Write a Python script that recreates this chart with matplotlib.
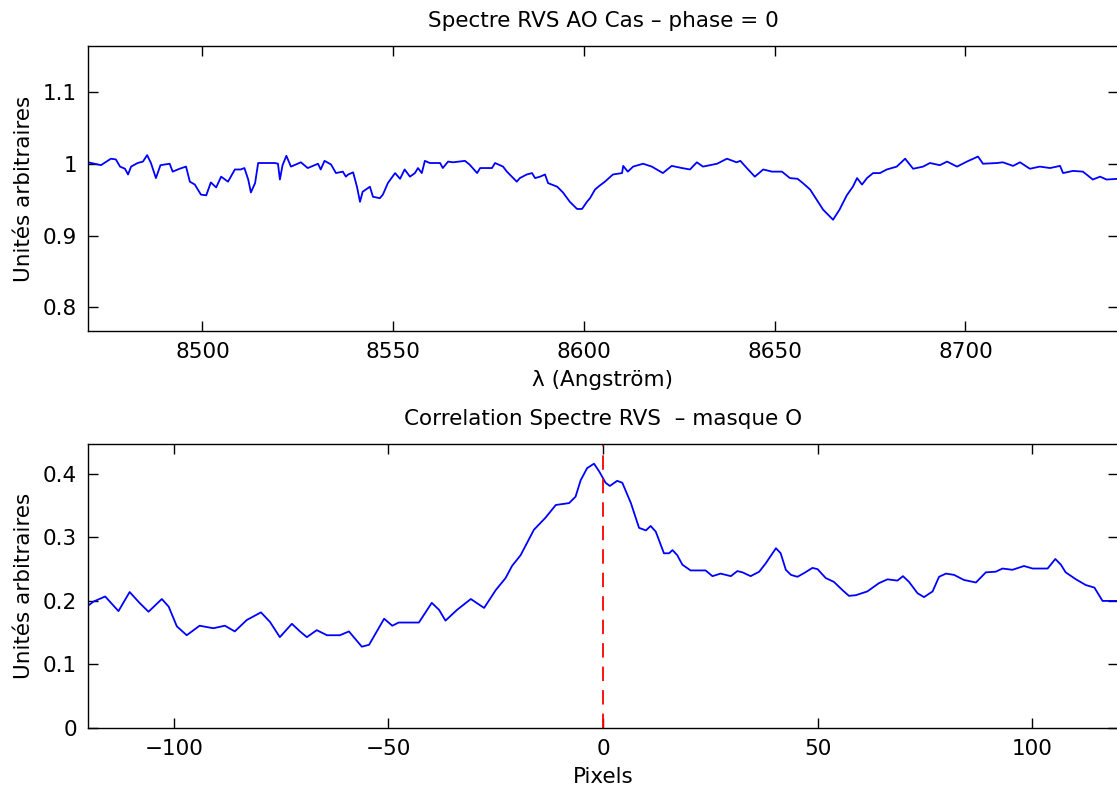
import matplotlib
matplotlib.use("Agg")
import matplotlib.pyplot as plt
from matplotlib.ticker import FuncFormatter

# ---- Data: top panel (spectrum) ----
wavelength = [8470.0, 8473.4, 8476.0, 8477.3, 8478.4, 8479.7, 8480.5, 8481.3, 8483.0, 8484.4,
              8485.5, 8486.5, 8487.8, 8489.0, 8491.4, 8492.2, 8494.0, 8495.7, 8496.7, 8498.0,
              8499.6, 8501.0, 8502.2, 8503.6, 8504.9, 8506.7, 8508.5, 8510.0, 8511.0, 8512.0,
              8512.7, 8513.8, 8514.6, 8519.0, 8519.8, 8520.3, 8521.0, 8522.0, 8523.2, 8525.8,
              8527.6, 8530.3, 8531.0, 8532.0, 8533.7, 8535.0, 8536.8, 8537.6, 8538.2, 8539.5,
              8540.5, 8541.3, 8542.0, 8543.9, 8544.7, 8546.5, 8547.3, 8548.6, 8550.5, 8551.8,
              8553.0, 8554.4, 8555.7, 8556.5, 8557.5, 8558.3, 8559.6, 8562.3, 8563.0, 8564.4,
              8565.7, 8568.8, 8570.0, 8572.0, 8572.8, 8575.9, 8576.7, 8578.8, 8579.8, 8582.4,
              8583.2, 8585.0, 8586.4, 8587.2, 8588.5, 8589.8, 8590.6, 8593.0, 8594.5, 8596.3,
              8598.2, 8599.5, 8600.8, 8601.6, 8602.9, 8604.0, 8605.5, 8607.6, 8610.0, 8610.3,
              8611.5, 8612.9, 8615.5, 8617.8, 8620.7, 8623.0, 8625.7, 8627.8, 8629.6, 8631.2,
              8634.9, 8637.5, 8640.0, 8641.0, 8642.7, 8644.8, 8647.0, 8649.3, 8651.9, 8654.0,
              8656.0, 8657.4, 8659.3, 8661.0, 8662.7, 8665.3, 8667.0, 8668.9, 8670.5, 8671.6,
              8672.9, 8674.2, 8675.8, 8677.6, 8679.4, 8682.0, 8684.2, 8686.3, 8688.9, 8690.7,
              8693.3, 8695.2, 8697.8, 8700.4, 8703.3, 8704.6, 8708.3, 8709.8, 8712.5, 8714.3,
              8716.9, 8719.5, 8722.2, 8724.8, 8725.6, 8728.2, 8730.8, 8733.4, 8735.3, 8737.0,
              8740.0]
flux = [1.002, 0.998, 1.007, 1.006, 0.996, 0.993, 0.985, 0.996, 1.001, 1.003,
        1.012, 1.001, 0.980, 0.998, 1.000, 0.989, 0.993, 0.996, 0.975, 0.971,
        0.957, 0.956, 0.974, 0.967, 0.982, 0.975, 0.992, 0.992, 0.994, 0.978,
        0.960, 0.973, 1.001, 1.001, 1.000, 0.978, 0.998, 1.011, 0.996, 1.002,
        0.994, 1.000, 0.992, 1.004, 0.999, 0.987, 0.989, 0.982, 0.985, 0.988,
        0.968, 0.947, 0.961, 0.968, 0.954, 0.952, 0.957, 0.973, 0.987, 0.979,
        0.992, 0.982, 0.987, 0.994, 0.987, 1.004, 1.001, 1.001, 0.994, 1.003,
        1.002, 1.004, 0.999, 0.987, 0.994, 0.994, 1.001, 0.996, 0.989, 0.975,
        0.980, 0.985, 0.987, 0.980, 0.982, 0.985, 0.973, 0.968, 0.960, 0.947,
        0.937, 0.937, 0.947, 0.952, 0.964, 0.969, 0.975, 0.985, 0.987, 0.997,
        0.989, 0.996, 1.000, 0.996, 0.987, 0.997, 0.994, 0.992, 1.002, 0.996,
        1.000, 1.007, 1.002, 1.004, 0.994, 0.982, 0.992, 0.989, 0.989, 0.980,
        0.979, 0.973, 0.964, 0.950, 0.936, 0.922, 0.936, 0.956, 0.968, 0.980,
        0.971, 0.980, 0.987, 0.987, 0.992, 0.996, 1.007, 0.993, 0.996, 1.001,
        0.998, 1.003, 0.996, 1.003, 1.010, 1.000, 1.001, 1.002, 0.997, 1.002,
        0.993, 0.996, 0.994, 0.997, 0.987, 0.990, 0.989, 0.978, 0.982, 0.978,
        0.979]

# ---- Data: bottom panel (correlation) ----
pixels = [-120.3, -118.7, -116.0, -112.9, -110.3, -108.0, -105.9, -102.8, -101.2, -99.3,
          -97.0, -94.0, -90.8, -88.1, -85.8, -83.0, -79.7, -77.6, -75.3, -72.5,
          -70.6, -69.0, -66.7, -64.3, -61.3, -59.2, -56.2, -54.5, -51.0, -49.1,
          -47.6, -42.9, -39.9, -38.2, -36.7, -34.0, -30.8, -27.7, -25.0, -22.7,
          -21.2, -19.2, -16.1, -13.4, -11.0, -7.9, -6.4, -5.2, -3.7, -2.1,
          -0.9, 0.6, 1.6, 3.3, 4.5, 6.5, 8.4, 10.0, 11.1, 12.3,
          14.2, 15.4, 16.2, 17.3, 18.5, 20.4, 23.9, 25.5, 27.4, 29.8,
          31.3, 32.5, 34.4, 36.4, 37.9, 40.3, 41.4, 42.6, 43.8, 45.3,
          46.9, 48.8, 50.0, 51.9, 53.8, 55.8, 57.3, 58.9, 61.6, 64.3,
          66.3, 68.6, 69.9, 71.3, 73.3, 74.8, 76.8, 78.3, 79.9, 81.8,
          84.1, 86.9, 89.2, 91.5, 93.1, 95.4, 98.1, 100.1, 103.6, 105.4,
          106.7, 107.8, 110.2, 112.5, 114.5, 116.4, 118.7, 120.0]
correlation = [0.191, 0.199, 0.207, 0.184, 0.214, 0.197, 0.183, 0.203, 0.191, 0.160,
               0.146, 0.161, 0.157, 0.161, 0.152, 0.170, 0.182, 0.167, 0.143, 0.164,
               0.152, 0.143, 0.154, 0.146, 0.146, 0.152, 0.128, 0.131, 0.172, 0.161,
               0.166, 0.166, 0.197, 0.186, 0.169, 0.186, 0.203, 0.189, 0.217, 0.236,
               0.255, 0.272, 0.312, 0.331, 0.351, 0.354, 0.364, 0.390, 0.409, 0.416,
               0.404, 0.386, 0.381, 0.389, 0.386, 0.354, 0.315, 0.311, 0.318, 0.309,
               0.275, 0.275, 0.280, 0.272, 0.257, 0.248, 0.248, 0.239, 0.243, 0.239,
               0.247, 0.245, 0.239, 0.246, 0.259, 0.283, 0.275, 0.249, 0.241, 0.238,
               0.244, 0.252, 0.250, 0.236, 0.230, 0.217, 0.208, 0.209, 0.215, 0.228,
               0.234, 0.232, 0.239, 0.230, 0.212, 0.206, 0.215, 0.238, 0.243, 0.241,
               0.233, 0.229, 0.245, 0.246, 0.251, 0.249, 0.255, 0.251, 0.251, 0.266,
               0.257, 0.245, 0.234, 0.225, 0.221, 0.200, 0.200, 0.200]

top_xticks = [8500, 8550, 8600, 8650, 8700]
top_yticks = [0.8, 0.9, 1.0, 1.1]
bot_xticks = [-100, -50, 0, 50, 100]
bot_yticks = [0, 0.1, 0.2, 0.3, 0.4]
marker_pixel = 0

plt.rcParams['font.family'] = ['DejaVu Sans']
plt.rcParams['font.size'] = 15.5
plt.rcParams['axes.unicode_minus'] = True

fig = plt.figure(figsize=(11.17, 7.91), dpi=100)
W, H = 1117, 791

def make_axes(left, top, right, bottom):
    return fig.add_axes([left / W, 1 - bottom / H, (right - left) / W, (bottom - top) / H])

ax1 = make_axes(88, 46, 1118, 331)
ax2 = make_axes(88, 444, 1118, 728)

fmt = FuncFormatter(lambda v, p: ('%g' % v).replace('-', '\u2212'))

for ax in (ax1, ax2):
    ax.tick_params(direction='in', length=7, width=1.0, top=True, right=True,
                   labelsize=15.5, pad=8, colors='black')
    for s in ax.spines.values():
        s.set_linewidth(1.0)
    ax.xaxis.set_major_formatter(fmt)
    ax.yaxis.set_major_formatter(fmt)

ax1.plot(wavelength, flux, color=(0, 0, 1), lw=1.3)
ax1.set_xlim(8470, 8740)
ax1.set_ylim(0.767, 1.164)
ax1.set_xticks(top_xticks)
ax1.set_yticks(top_yticks)
ax1.set_title('Spectre RVS AO Cas \u2013 phase = 0', fontsize=15.5, pad=14)
ax1.set_xlabel('\u03bb (Angstr\u00f6m)', fontsize=15.5, labelpad=6)
ax1.set_ylabel('Unit\u00e9s arbitraires', fontsize=15.5, labelpad=6)

ax2.plot(pixels, correlation, color=(0, 0, 1), lw=1.3)
ax2.axvline(marker_pixel, color=(1, 0, 0), lw=1.3, dashes=(8, 5))
ax2.set_xlim(-120, 120)
ax2.set_ylim(0, 0.447)
ax2.set_xticks(bot_xticks)
ax2.set_yticks(bot_yticks)
ax2.set_title('Correlation Spectre RVS  \u2013 masque O', fontsize=15.5, pad=14)
ax2.set_xlabel('Pixels', fontsize=15.5, labelpad=6)
ax2.set_ylabel('Unit\u00e9s arbitraires', fontsize=15.5, labelpad=6)

fig.savefig('out.png', dpi=100)
